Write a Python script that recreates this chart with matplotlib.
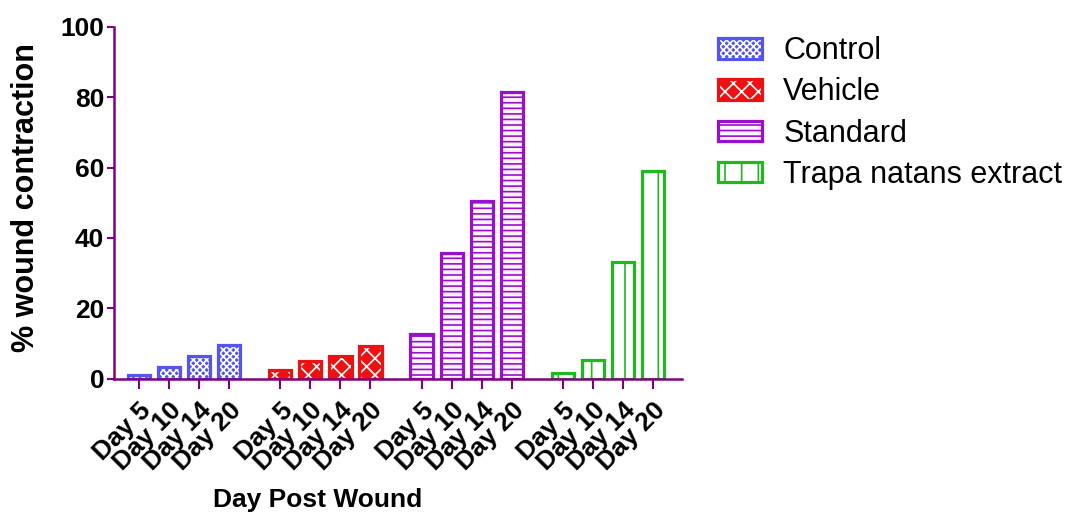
import numpy as np
import matplotlib
matplotlib.use('Agg')
import matplotlib.pyplot as plt
from matplotlib.patches import Patch
from matplotlib.legend_handler import HandlerTuple

plt.rcParams['font.family'] = ['Liberation Sans', 'DejaVu Sans']
plt.rcParams['hatch.linewidth'] = 1.2

# data
groups = ["Control", "Vehicle", "Standard", "Trapa natans extract"]
days = ["Day 5", "Day 10", "Day 14", "Day 20"]
control = [1.2, 3.4, 6.5, 9.5]
vehicle = [2.6, 5.1, 6.6, 9.4]
standard = [12.8, 35.8, 50.4, 81.5]
trapa = [1.7, 5.4, 33.2, 59.1]

values = [control, vehicle, standard, trapa]
colors = ['#5454ee', '#ee1111', '#9910cc', '#1fb81f']
faces = ['#5454ee', '#ee1111', '#fff2ff', 'white']
hatch_colors = ['white', 'white', '#9910cc', '#1fb81f']
hatches = ['xxxxx', 'xx', '---', '|']

fig = plt.figure(figsize=(10.66, 5.14), dpi=100)
ax = fig.add_axes([0.107, 0.263, 0.533, 0.685])

GROUP_STEP = 4.7
width = 0.74
xticks = []
handles = []
for g in range(len(groups)):
    x = g * GROUP_STEP + np.arange(len(days))
    xticks += list(x)
    ax.bar(x, values[g], width, color=faces[g], edgecolor=faces[g], linewidth=0)
    ax.bar(x, values[g], width, color='none', edgecolor=hatch_colors[g],
           hatch=hatches[g], linewidth=0)
    ax.bar(x, values[g], width, color='none', edgecolor=colors[g], linewidth=2.3)
    # legend handle: fill+hatch, then outline
    h = Patch(facecolor=faces[g], edgecolor=hatch_colors[g], hatch=hatches[g], linewidth=0)
    h2 = Patch(facecolor='none', edgecolor=colors[g], linewidth=2.3)
    handles.append((h, h2))

ax.set_xlim(-0.83, 3 * GROUP_STEP + 3 + 0.97)
ax.set_ylim(0, 100)
ax.set_yticks([0, 20, 40, 60, 80, 100])
ax.set_xticks(xticks)
ax.set_xticklabels(days * len(groups), rotation=45, ha='right',
                   rotation_mode='anchor', fontsize=19, fontweight='bold')
for lab in ax.get_yticklabels():
    lab.set_fontsize(19)
    lab.set_fontweight('bold')

purple = '#800080'
for s in ['top', 'right']:
    ax.spines[s].set_visible(False)
for s in ['left', 'bottom']:
    ax.spines[s].set_color(purple)
    ax.spines[s].set_linewidth(1.8)
ax.tick_params(axis='y', length=5, width=1.5, color=purple, pad=2)
ax.tick_params(axis='x', length=7, width=1.5, color=purple, pad=7)

ax.set_ylabel('% wound contraction', fontsize=22, fontweight='bold')
ax.yaxis.set_label_coords(-0.129, 0.514)
ax.set_xlabel('Day Post Wound', fontsize=19, fontweight='bold')
ax.xaxis.set_label_coords(0.359, -0.31)

fig.legend(handles, groups, loc='upper left', bbox_to_anchor=(0.6735, 0.93),
           frameon=False, fontsize=22, handlelength=1.45, handleheight=0.66,
           labelspacing=0.37, handletextpad=0.69, borderpad=0, borderaxespad=0,
           handler_map={tuple: HandlerTuple(ndivide=1, pad=0)})

fig.savefig('out.png', dpi=100)
